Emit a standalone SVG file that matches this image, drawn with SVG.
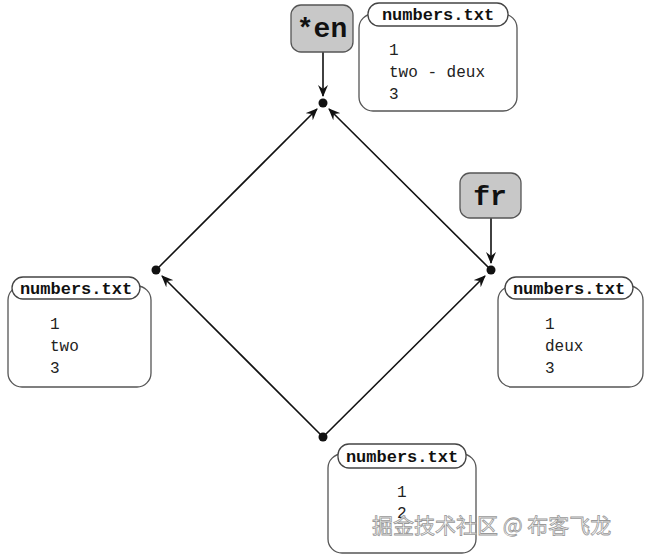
<svg xmlns="http://www.w3.org/2000/svg" width="648" height="557" viewBox="0 0 648 557">
<style>
.box{fill:#fff;stroke:#555;stroke-width:1.3}
.tab{fill:#fff;stroke:#444;stroke-width:1.3}
.tag{fill:#c8c8c8;stroke:#555;stroke-width:1.3}
.tt{font-family:"Liberation Mono",monospace;font-weight:bold;font-size:17px;fill:#111}
.ct{font-family:"Liberation Mono",monospace;font-size:16px;fill:#222}
.big{font-family:"Liberation Mono",monospace;font-weight:bold;font-size:28px;fill:#111}
.ln{stroke:#111;stroke-width:1.6;fill:none;marker-end:url(#ah)}
.dot{fill:#111}
</style>
<defs>
<marker id="ah" viewBox="0 0 12 10" refX="11" refY="5" markerWidth="12" markerHeight="10" markerUnits="userSpaceOnUse" orient="auto">
<path d="M0,0 L12,5 L0,10 L4,5 Z" fill="#111"/>
</marker>
</defs>
<rect width="648" height="557" fill="#fff"/>
<g id="connectors">
<line class="ln" x1="323" y1="437" x2="162" y2="276"/>
<line class="ln" x1="323" y1="437" x2="485" y2="276"/>
<line class="ln" x1="156" y1="270" x2="317" y2="109"/>
<line class="ln" x1="491" y1="270" x2="329" y2="109"/>
<line class="ln" x1="323" y1="52" x2="323" y2="96"/>
<line class="ln" x1="491" y1="218" x2="491" y2="263"/>
</g>
<g id="dots">
<circle class="dot" cx="323" cy="103" r="4.5"/>
<circle class="dot" cx="156" cy="270" r="4.5"/>
<circle class="dot" cx="491" cy="270" r="4.5"/>
<circle class="dot" cx="323" cy="437" r="4.5"/>
</g>
<g id="tag-en">
<rect class="tag" x="291" y="5" width="62" height="47" rx="10"/>
<text class="big" x="322" y="37" text-anchor="middle">*en</text>
</g>
<g id="tag-fr">
<rect class="tag" x="460" y="173" width="61" height="45" rx="10"/>
<text class="big" x="490" y="205" text-anchor="middle">fr</text>
</g>
<g id="file-top">
<rect class="box" x="359" y="14" width="158" height="97" rx="14"/>
<rect class="tab" x="368" y="3" width="140" height="23" rx="11"/>
<text class="tt" x="438" y="20" text-anchor="middle">numbers.txt</text>
<text class="ct" x="389" y="55">1</text>
<text class="ct" x="389" y="77">two - deux</text>
<text class="ct" x="389" y="99">3</text>
</g>
<g id="file-left">
<rect class="box" x="8" y="286" width="143" height="101" rx="14"/>
<rect class="tab" x="12" y="277" width="128" height="22" rx="11"/>
<text class="tt" x="76" y="294" text-anchor="middle">numbers.txt</text>
<text class="ct" x="50" y="329">1</text>
<text class="ct" x="50" y="351">two</text>
<text class="ct" x="50" y="373">3</text>
</g>
<g id="file-right">
<rect class="box" x="498" y="286" width="145" height="101" rx="14"/>
<rect class="tab" x="505" y="277" width="128" height="22" rx="11"/>
<text class="tt" x="569" y="294" text-anchor="middle">numbers.txt</text>
<text class="ct" x="545" y="329">1</text>
<text class="ct" x="545" y="351">deux</text>
<text class="ct" x="545" y="373">3</text>
</g>
<g id="file-bottom">
<rect class="box" x="328" y="454" width="148" height="99" rx="14"/>
<rect class="tab" x="338" y="444" width="128" height="24" rx="11"/>
<text class="tt" x="402" y="462" text-anchor="middle">numbers.txt</text>
<text class="ct" x="397" y="497">1</text>
<text class="ct" x="397" y="518">2</text>
</g>
<text x="372" y="533" font-family="'Noto Sans CJK SC',sans-serif" font-size="21" fill="#fff" stroke="#999" stroke-width="0.8">掘金技术社区 @ 布客飞龙</text>
</svg>
